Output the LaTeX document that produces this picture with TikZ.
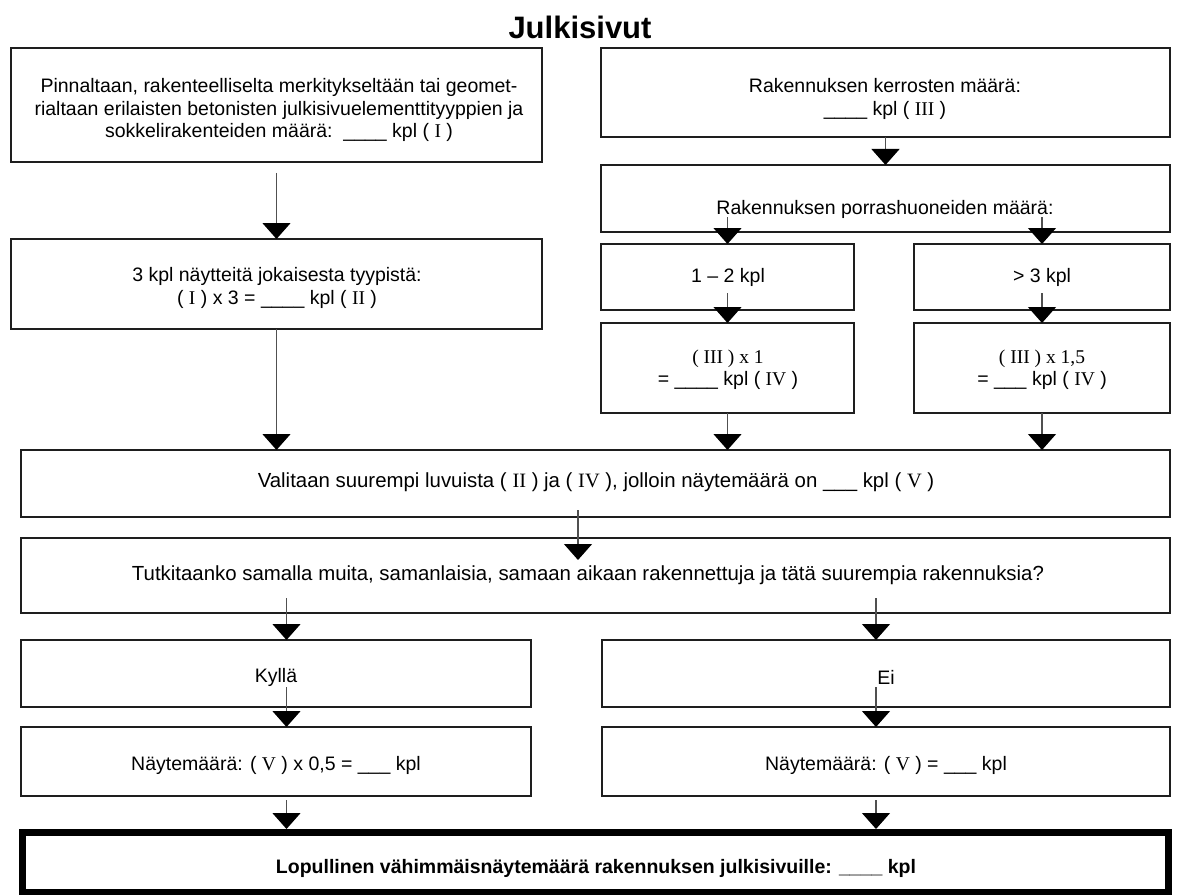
\documentclass[tikz,border=0pt]{standalone}
\usepackage{fontspec}
\setmainfont{Liberation Sans}
\newfontfamily\romfont{Liberation Serif}
\usetikzlibrary{arrows.meta,calc}
\newcommand\rn[1]{{\romfont #1}}
\definecolor{boxc}{HTML}{1E1E1E}
\definecolor{arrc}{HTML}{505050}
\begin{document}
\begin{tikzpicture}[x=1pt,y=-1pt,
  box/.style={draw=boxc, line width=2pt, inner sep=0pt, outer sep=0pt},
  bigbox/.style={draw=black, line width=6.5pt, inner sep=0pt, outer sep=0pt},
  txt/.style={font=\fontsize{19.5}{22.5}\selectfont, align=center, inner sep=0pt},
  widetxt/.style={txt, font=\fontsize{20.4}{23}\selectfont},
  arr/.style={draw=arrc, line width=1.3pt, -{Triangle[width=28pt,length=16pt,color=black]}}
]
\useasboundingbox (0,0) rectangle (1177,896);
\fill[white] (0,0) rectangle (1177,896);

% title
\node[font=\bfseries\fontsize{31}{31}\selectfont, inner sep=0pt] (title) at (580,27) {Julkisivut};

% boxes
\node[box, minimum width=531pt, minimum height=114pt] (A) at (276.5,105) {};
\node[box, minimum width=569pt, minimum height=89pt] (B) at (885.5,92.5) {};
\node[box, minimum width=569pt, minimum height=67pt] (C) at (885.5,198.5) {};
\node[box, minimum width=253pt, minimum height=66pt] (D) at (727.5,277) {};
\node[box, minimum width=256pt, minimum height=66pt] (E) at (1042,277) {};
\node[box, minimum width=253pt, minimum height=90pt] (F) at (727.5,368) {};
\node[box, minimum width=256pt, minimum height=90pt] (G) at (1042,368) {};
\node[box, minimum width=531pt, minimum height=90pt] (H) at (276.5,284) {};
\node[box, minimum width=1149pt, minimum height=67pt] (V) at (595.5,483.5) {};
\node[box, minimum width=1149pt, minimum height=75pt] (T) at (595.5,575.5) {};
\node[box, minimum width=510pt, minimum height=67pt] (K) at (276,673.5) {};
\node[box, minimum width=568pt, minimum height=67pt] (Ei) at (886,673.5) {};
\node[box, minimum width=510pt, minimum height=69pt] (N1) at (276,761.5) {};
\node[box, minimum width=568pt, minimum height=69pt] (N2) at (886,761.5) {};
\node[bigbox, minimum width=1146pt, minimum height=59.5pt] (L) at (595.5,862) {};

% texts
\node[txt] (tA) at (279,110) {Pinnaltaan, rakenteelliselta merkitykseltään tai geomet-\\rialtaan erilaisten betonisten julkisivuelementtityyppien ja\\sokkelirakenteiden määrä:\ \ \_\_\_\_ kpl ( \rn{I} )};
\node[txt] (tB) at (885,99) {Rakennuksen kerrosten määrä:\\\_\_\_\_ kpl ( \rn{III} )};
\node[txt] (tC) at (885,209) {Rakennuksen porrashuoneiden määrä:};
\node[txt] (tD) at (728,277) {1 – 2 kpl};
\node[txt] (tE) at (1042,277) {> 3 kpl};
\node[txt] (tF) at (728,370) {\rn{( III ) x 1}\\= \_\_\_\_ kpl ( \rn{IV} )};
\node[txt] (tG) at (1042,370) {\rn{( III ) x 1,5}\\= \_\_\_ kpl ( \rn{IV} )};
\node[txt] (tH) at (277,288) {3 kpl näytteitä jokaisesta tyypistä:\\( \rn{I} ) x 3 = \_\_\_\_ kpl ( \rn{II} )};
\node[widetxt] (tV) at (596,482) {Valitaan suurempi luvuista ( \rn{II} ) ja ( \rn{IV} ), jolloin näytemäärä on \_\_\_ kpl ( \rn{V} )};
\node[widetxt] (tT) at (588,575) {Tutkitaanko samalla muita, samanlaisia, samaan aikaan rakennettuja ja tätä suurempia rakennuksia?};
\node[txt] (tK) at (276,677) {Kyllä};
\node[txt] (tEi) at (886,677) {Ei};
\node[txt] (tN1) at (276,765) {Näytemäärä: ( \rn{V} ) x 0,5 = \_\_\_ kpl};
\node[txt] (tN2) at (886,765) {Näytemäärä: ( \rn{V} ) = \_\_\_ kpl};
\node[txt, font=\bfseries\fontsize{19.5}{22.5}\selectfont] (tL) at (596,868) {Lopullinen vähimmäisnäytemäärä rakennuksen julkisivuille: \_\_\_\_ kpl};

% arrow x positions
\coordinate (vx) at (578,0);
\coordinate (kx) at (286.5,0);
\coordinate (ex) at (876,0);

% connectors
\draw[arr] ($(A.south)+(0,11)$) -- (H.north);
\draw[arr] (B.south) -- (C.north);
\draw[arr] ($(C.south -| D.north)+(0,-15)$) -- (D.north);
\draw[arr] ($(C.south -| E.north)+(0,-15)$) -- (E.north);
\draw[arr] ($(D.south)+(0,-17)$) -- (F.north);
\draw[arr] ($(E.south)+(0,-17)$) -- (G.north);
\draw[arr] (F.south) -- (F.south |- V.north);
\draw[arr] (G.south) -- (G.south |- V.north);
\draw[arr] (H.south) -- (H.south |- V.north);
\draw[arr] ($(V.south -| vx)+(0,-7)$) -- ($(T.north -| vx)+(0,22)$);
\draw[arr] ($(T.south -| kx)+(0,-15)$) -- (K.north -| kx);
\draw[arr] ($(T.south -| ex)+(0,-15)$) -- (Ei.north -| ex);
\draw[arr] ($(K.south -| kx)+(0,-20)$) -- (N1.north -| kx);
\draw[arr] ($(Ei.south -| ex)+(0,-20)$) -- (N2.north -| ex);
\draw[arr] ($(N1.south -| kx)+(0,4)$) -- ($(L.north -| kx)+(0,-3.25)$);
\draw[arr] ($(N2.south -| ex)+(0,4)$) -- ($(L.north -| ex)+(0,-3.25)$);
\end{tikzpicture}
\end{document}
